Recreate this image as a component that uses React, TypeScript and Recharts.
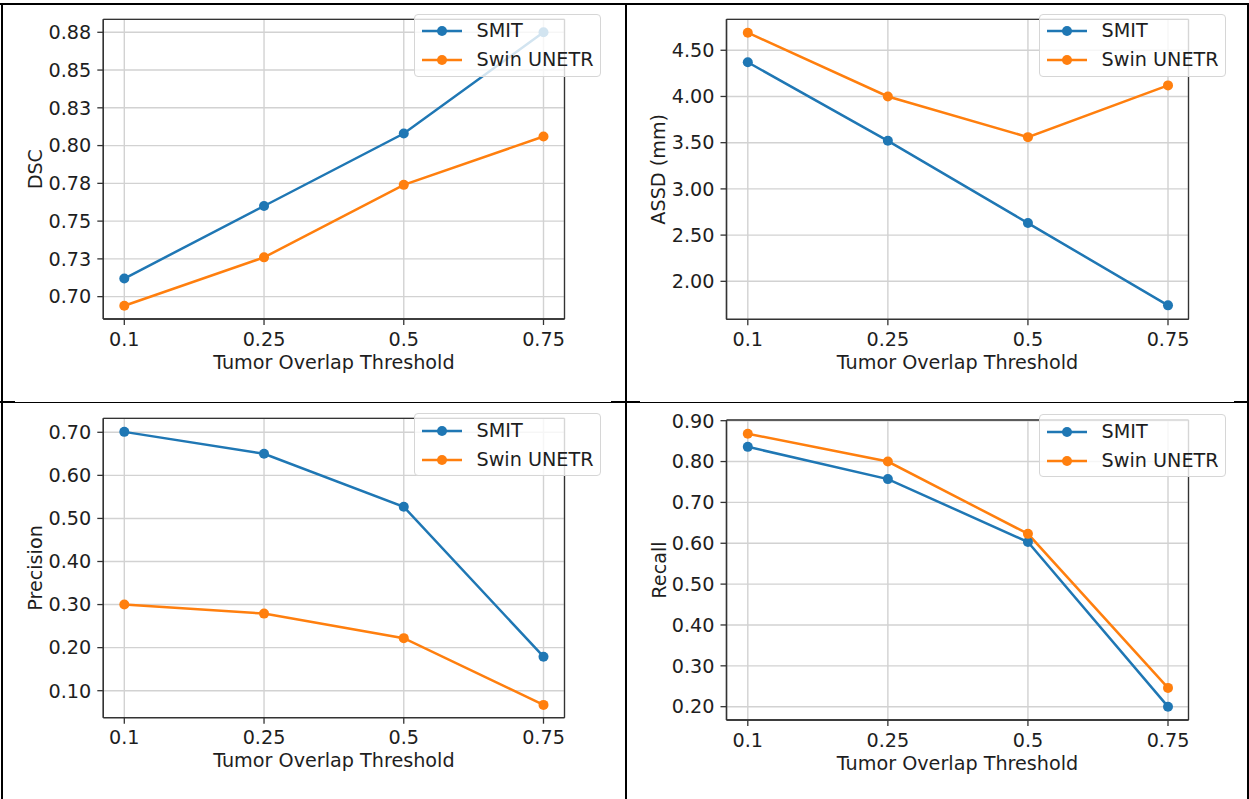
import React from 'react';
import { LineChart, Line, XAxis, YAxis, CartesianGrid, Legend } from 'recharts';

// ---------- data ----------
const thresholds = ['0.1', '0.25', '0.5', '0.75'];
const seriesNames = ['SMIT', 'Swin UNETR'];
const seriesColors = ['#1f77b4', '#ff7f0e'];

const dscSmit = [0.712, 0.760, 0.808, 0.875];
const dscSwin = [0.694, 0.726, 0.774, 0.806];
const dscDomain = [0.6852, 0.8836];
const dscTicks = [0.7, 0.725, 0.75, 0.775, 0.8, 0.825, 0.85, 0.875];
const dscTickLabels = ['0.70', '0.73', '0.75', '0.78', '0.80', '0.83', '0.85', '0.88'];

const assdSmit = [4.37, 3.52, 2.63, 1.74];
const assdSwin = [4.69, 4.0, 3.56, 4.12];
const assdDomain = [1.589, 4.835];
const assdTicks = [2.0, 2.5, 3.0, 3.5, 4.0, 4.5];
const assdTickLabels = ['2.00', '2.50', '3.00', '3.50', '4.00', '4.50'];

const precSmit = [0.701, 0.650, 0.527, 0.179];
const precSwin = [0.300, 0.279, 0.222, 0.067];
const precDomain = [0.0373, 0.7325];
const precTicks = [0.1, 0.2, 0.3, 0.4, 0.5, 0.6, 0.7];
const precTickLabels = ['0.10', '0.20', '0.30', '0.40', '0.50', '0.60', '0.70'];

const recSmit = [0.836, 0.757, 0.603, 0.200];
const recSwin = [0.868, 0.800, 0.623, 0.246];
const recDomain = [0.1674, 0.9017];
const recTicks = [0.2, 0.3, 0.4, 0.5, 0.6, 0.7, 0.8, 0.9];
const recTickLabels = ['0.20', '0.30', '0.40', '0.50', '0.60', '0.70', '0.80', '0.90'];

const xTitle = 'Tumor Overlap Threshold';

// ---------- styles ----------
const FONT = '"DejaVu Sans", Verdana, sans-serif';
const FS = 19.2;
const TEXT = '#1e1e1e';
const SPINE = '#333333';
const GRID = '#d2d2d2';
const YW = 50;
const XH = 40;

type Rect = { l: number; t: number; r: number; b: number };
type PanelProps = {
  left: number; top: number; width: number; height: number;
  plot: Rect; xPad: [number, number]; legendAt: [number, number];
  yTitle: string; smit: number[]; swin: number[];
  domain: number[]; ticks: number[]; tickLabels: string[];
};

const LegendBox = (props: any) => {
  const payload = props.payload || [];
  return (
    <div style={{
      boxSizing: 'border-box', width: 187, height: 63, position: 'relative',
      background: 'rgba(255,255,255,0.8)', border: '1px solid #d6d6d6', borderRadius: 4,
      fontFamily: FONT, fontSize: FS, color: TEXT,
    }}>
      {payload.map((e: any, i: number) => (
        <div key={i} style={{ position: 'absolute', left: 0, top: 16.5 + i * 29 - 14, height: 28, display: 'flex', alignItems: 'center', whiteSpace: 'nowrap' }}>
          <svg width={62} height={28} style={{ display: 'block' }}>
            <line x1={7} x2={47} y1={14} y2={14} stroke={e.color} strokeWidth={2.5} />
            <circle cx={27} cy={14} r={5} fill={e.color} />
          </svg>
          <span style={{ lineHeight: '28px' }}>{e.value}</span>
        </div>
      ))}
    </div>
  );
};

// frame lines generated from the chart's own plot offset
const frameH = (a: any) => [a.offset.top, a.offset.top + a.offset.height];
const frameV = (a: any) => [a.offset.left, a.offset.left + a.offset.width];

function Panel(p: PanelProps) {
  const data = thresholds.map((t, i) => ({ t, smit: p.smit[i], swin: p.swin[i] }));
  const margin = {
    left: p.plot.l - p.left - YW,
    top: p.plot.t - p.top,
    right: p.left + p.width - p.plot.r,
    bottom: p.top + p.height - p.plot.b - XH,
  };
  const fmt = (v: number) => {
    const i = p.ticks.indexOf(v);
    return i >= 0 ? p.tickLabels[i] : String(v);
  };
  const yLabel = (lp: any) => {
    const vb = lp.viewBox || {};
    const cx = vb.x + vb.width - 67.5;
    const cy = vb.y + vb.height / 2;
    return (
      <text x={cx} y={cy} transform={`rotate(-90 ${cx} ${cy})`} textAnchor="middle" dominantBaseline="central"
        fontFamily={FONT} fontSize={FS} fill={TEXT}>{p.yTitle}</text>
    );
  };
  const xLabel = (lp: any) => {
    const vb = lp.viewBox || {};
    const cx = vb.x + vb.width / 2;
    const cy = vb.y + 43;
    return (
      <text x={cx} y={cy} textAnchor="middle" dominantBaseline="central"
        fontFamily={FONT} fontSize={FS} fill={TEXT}>{xTitle}</text>
    );
  };
  const tickStyle = { fontSize: FS, fill: TEXT, fontFamily: FONT };
  const spine = { stroke: SPINE, strokeWidth: 1.3 };
  return (
    <div style={{ position: 'absolute', left: p.left, top: p.top }}>
      <LineChart width={p.width} height={p.height} data={data} margin={margin}>
        <CartesianGrid stroke={GRID} strokeWidth={1.4} />
        <CartesianGrid stroke={SPINE} strokeWidth={1.3} fill="none"
          horizontalCoordinatesGenerator={frameH} verticalCoordinatesGenerator={frameV} />
        <XAxis dataKey="t" type="category" padding={{ left: p.xPad[0], right: p.xPad[1] }} height={XH}
          tickSize={6} tickMargin={7} tick={tickStyle} axisLine={spine} tickLine={spine} interval={0} label={xLabel} />
        <YAxis type="number" domain={p.domain} ticks={p.ticks} allowDataOverflow width={YW}
          tickSize={6} tickMargin={6} tick={tickStyle} tickFormatter={fmt} axisLine={spine} tickLine={spine}
          interval={0} label={yLabel} />
        <Line dataKey="smit" name={seriesNames[0]} stroke={seriesColors[0]} strokeWidth={2.5}
          dot={{ r: 5, fill: seriesColors[0], stroke: seriesColors[0], strokeWidth: 0 }} activeDot={false} isAnimationActive={false} />
        <Line dataKey="swin" name={seriesNames[1]} stroke={seriesColors[1]} strokeWidth={2.5}
          dot={{ r: 5, fill: seriesColors[1], stroke: seriesColors[1], strokeWidth: 0 }} activeDot={false} isAnimationActive={false} />
        <Legend layout="vertical" align="center" verticalAlign="middle" width={187}
          wrapperStyle={{ left: p.legendAt[0] - p.left, top: p.legendAt[1] - p.top, width: 187 }}
          content={LegendBox} />
      </LineChart>
    </div>
  );
}

const bar = (l: number, t: number, w: number, h: number) => (
  <div style={{ position: 'absolute', left: l, top: t, width: w, height: h, background: '#000' }} />
);

export default function App() {
  return (
    <div style={{ position: 'relative', width: 1249, height: 799, background: '#fff', overflow: 'hidden' }}>
      <style>{`body{margin:0;background:#fff}`}</style>
      <Panel left={0} top={0} width={626} height={401}
        plot={{ l: 103.3, t: 19.3, r: 564.5, b: 319 }} xPad={[21, 21]} legendAt={[413.5, 13.5]}
        yTitle="DSC" smit={dscSmit} swin={dscSwin} domain={dscDomain} ticks={dscTicks} tickLabels={dscTickLabels} />
      <Panel left={626} top={0} width={623} height={401}
        plot={{ l: 726.5, t: 19.3, r: 1188.5, b: 319.3 }} xPad={[21.3, 20.5]} legendAt={[1038.6, 13.8]}
        yTitle="ASSD (mm)" smit={assdSmit} swin={assdSwin} domain={assdDomain} ticks={assdTicks} tickLabels={assdTickLabels} />
      <Panel left={0} top={402} width={626} height={397}
        plot={{ l: 103.3, t: 418.3, r: 564.5, b: 717.7 }} xPad={[21, 21]} legendAt={[413.5, 413.3]}
        yTitle="Precision" smit={precSmit} swin={precSwin} domain={precDomain} ticks={precTicks} tickLabels={precTickLabels} />
      <Panel left={626} top={402} width={623} height={397}
        plot={{ l: 726.5, t: 420, r: 1188.5, b: 720 }} xPad={[21.3, 20.5]} legendAt={[1038.6, 414.3]}
        yTitle="Recall" smit={recSmit} swin={recSwin} domain={recDomain} ticks={recTicks} tickLabels={recTickLabels} />
      {/* table borders */}
      {bar(0, 3, 1249, 2)}
      {bar(0.5, 3, 2, 796)}
      {bar(1247, 3, 2, 796)}
      {bar(625, 3, 1.8, 796)}
      {bar(0, 401.5, 1249, 1.2)}
      {bar(0, 401, 15, 2.2)}
      {bar(611, 401, 29, 2.2)}
      {bar(1234, 401, 15, 2.2)}
    </div>
  );
}
